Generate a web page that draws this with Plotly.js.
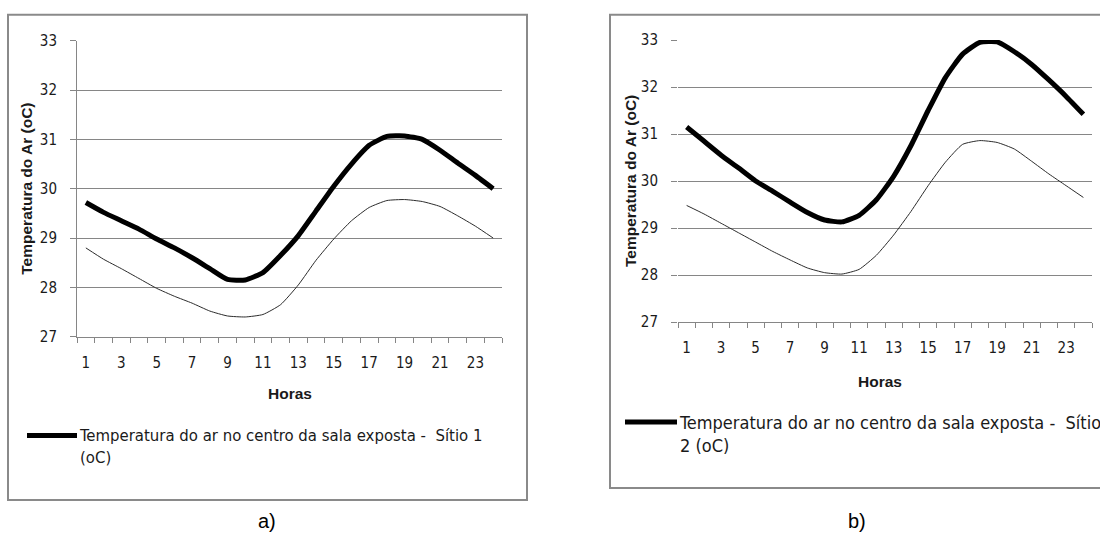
<!DOCTYPE html>
<html>
<head>
<meta charset="utf-8">
<script src="https://cdn.plot.ly/plotly-3.0.1.min.js"></script>
<style>
  html, body { margin: 0; padding: 0; background: #fff; }
  #chart { width: 1100px; height: 533px; }
</style>
</head>
<body>
<div id="chart"></div>
<script>
// Hours of the day (categories on both x axes)
const hours = [1, 2, 3, 4, 5, 6, 7, 8, 9, 10, 11, 12, 13, 14, 15, 16, 17, 18, 19, 20, 21, 22, 23, 24];
const tempTicks = [27, 28, 29, 30, 31, 32, 33];

// Site 1: air temperature at the centre of the exposed room, and the second (thin) series
const sitio1Centro = [29.72, 29.52, 29.35, 29.18, 28.98, 28.8, 28.6, 28.38, 28.16, 28.15, 28.3, 28.65,
                      29.05, 29.55, 30.05, 30.5, 30.88, 31.06, 31.07, 31.0, 30.78, 30.52, 30.27, 30.0];
const sitio1Fina = [28.8, 28.57, 28.38, 28.18, 27.98, 27.82, 27.68, 27.52, 27.42, 27.4, 27.45, 27.65,
                    28.05, 28.55, 28.98, 29.35, 29.62, 29.76, 29.78, 29.74, 29.64, 29.45, 29.24, 29.0];

// Site 2
const sitio2Centro = [31.15, 30.85, 30.55, 30.28, 30.0, 29.78, 29.55, 29.33, 29.17, 29.13, 29.27, 29.6,
                      30.1, 30.75, 31.5, 32.2, 32.7, 32.95, 32.96, 32.75, 32.48, 32.15, 31.8, 31.42];
const sitio2Fina = [29.48, 29.3, 29.1, 28.9, 28.7, 28.5, 28.32, 28.15, 28.05, 28.02, 28.12, 28.42,
                    28.85, 29.35, 29.9, 30.4, 30.78, 30.86, 30.82, 30.68, 30.42, 30.15, 29.9, 29.65];

const legendText1 = 'Temperatura do ar no centro da sala exposta -&nbsp; Sítio 1<br>(oC)';
const legendText2 = 'Temperatura do ar no centro da sala exposta -&nbsp; Sítio<br>2 (oC)';
const yTitle = 'Temperatura do Ar (oC)';
const xTitle = 'Horas';

// page geometry helpers (pixel -> paper fraction)
const W = 1100, H = 533;
const fx = p => p / W;
const fy = p => 1 - p / H;

const GRID = '#868686';
const TXT = '#1a1a1a';
const narrow = 'Liberation Sans Narrow, DejaVu Sans Condensed, Liberation Sans, Arial, sans-serif';
const tickFont = { family: narrow, size: 15, color: TXT };
const labelFont = { family: 'Liberation Sans, Arial, sans-serif', size: 15.5, color: TXT, weight: 'bold' };

function thick(x, y, xa, ya) {
  return { x, y, xaxis: xa, yaxis: ya, type: 'scatter', mode: 'lines',
           line: { color: '#000', width: 5, shape: 'spline', smoothing: 0.5 }, hoverinfo: 'skip' };
}
function thin(x, y, xa, ya) {
  return { x, y, xaxis: xa, yaxis: ya, type: 'scatter', mode: 'lines',
           line: { color: '#2b2b2b', width: 1, shape: 'spline', smoothing: 0.5 }, hoverinfo: 'skip' };
}

const data = [
  thick(hours, sitio1Centro, 'x', 'y'),
  thin(hours, sitio1Fina, 'x', 'y'),
  thick(hours, sitio2Centro, 'x2', 'y2'),
  thin(hours, sitio2Fina, 'x2', 'y2')
];

function xAxis(domain, anchor) {
  return {
    domain, anchor, range: [0.5, 24.5], tickmode: 'linear', tick0: 1, dtick: 2,
    ticks: '', showgrid: false, zeroline: false,
    showline: true, linecolor: GRID, linewidth: 1,
    minor: { ticks: 'outside', ticklen: 5, tickcolor: GRID, tickwidth: 1, tickmode: 'linear', tick0: 0.5, dtick: 1, showgrid: false },
    tickfont: tickFont, ticklabelstandoff: 12, fixedrange: true
  };
}
function yAxis(domain, anchor, withLine) {
  return {
    domain, anchor, range: [27, 33], tickmode: 'array', tickvals: tempTicks,
    showgrid: true, gridcolor: GRID, gridwidth: 1, zeroline: false,
    ticks: 'outside', ticklen: 6, tickcolor: GRID, tickwidth: 1,
    showline: withLine, linecolor: GRID, linewidth: 1,
    tickfont: tickFont, ticklabelstandoff: 10, fixedrange: true
  };
}

const layout = {
  width: W, height: H,
  margin: { l: 0, r: 0, t: 0, b: 0 },
  paper_bgcolor: '#fff', plot_bgcolor: '#fff',
  showlegend: false,
  xaxis: xAxis([fx(77), fx(502)], 'y'),
  yaxis: yAxis([fy(336.7), fy(40.7)], 'x', true),
  xaxis2: xAxis([fx(678), fx(1092)], 'y2'),
  yaxis2: yAxis([fy(322), fy(40)], 'x2', false),
  shapes: [
    // chart frames
    { type: 'rect', xref: 'paper', yref: 'paper', x0: fx(8), x1: fx(527), y0: fy(500), y1: fy(14.7),
      line: { color: '#8a8a8a', width: 2 } },
    { type: 'rect', xref: 'paper', yref: 'paper', x0: fx(610), x1: fx(1112), y0: fy(488), y1: fy(14.7),
      line: { color: '#8a8a8a', width: 2 } },
    // legend keys
    { type: 'line', xref: 'paper', yref: 'paper', x0: fx(27), x1: fx(77), y0: fy(435.5), y1: fy(435.5),
      line: { color: '#000', width: 5 } },
    { type: 'line', xref: 'paper', yref: 'paper', x0: fx(625), x1: fx(677), y0: fy(422), y1: fy(422),
      line: { color: '#000', width: 5 } }
  ],
  annotations: [
    { xref: 'paper', yref: 'paper', x: fx(27), y: fy(188.7), text: yTitle, textangle: -90, showarrow: false,
      font: labelFont, xanchor: 'center', yanchor: 'middle' },
    { xref: 'paper', yref: 'paper', x: fx(630), y: fy(181), text: yTitle, textangle: -90, showarrow: false,
      font: labelFont, xanchor: 'center', yanchor: 'middle' },
    { xref: 'paper', yref: 'paper', x: fx(289.5), y: fy(393), text: xTitle, showarrow: false,
      font: labelFont, xanchor: 'center', yanchor: 'middle' },
    { xref: 'paper', yref: 'paper', x: fx(880), y: fy(381.5), text: xTitle, showarrow: false,
      font: labelFont, xanchor: 'center', yanchor: 'middle' },
    { xref: 'paper', yref: 'paper', x: fx(77), y: fy(424), text: legendText1, showarrow: false, align: 'left',
      font: { family: narrow, size: 16.6, color: TXT }, xanchor: 'left', yanchor: 'top' },
    { xref: 'paper', yref: 'paper', x: fx(677), y: fy(409.5), text: legendText2, showarrow: false, align: 'left',
      font: { family: narrow, size: 18, color: TXT }, xanchor: 'left', yanchor: 'top' },
    { xref: 'paper', yref: 'paper', x: fx(267), y: fy(521), text: 'a)', showarrow: false,
      font: { family: 'Liberation Sans, Arial, sans-serif', size: 20, color: '#000' }, xanchor: 'center', yanchor: 'middle' },
    { xref: 'paper', yref: 'paper', x: fx(857), y: fy(521), text: 'b)', showarrow: false,
      font: { family: 'Liberation Sans, Arial, sans-serif', size: 20, color: '#000' }, xanchor: 'center', yanchor: 'middle' }
  ]
};

Plotly.newPlot('chart', data, layout, { staticPlot: true, displayModeBar: false });
</script>
</body>
</html>
